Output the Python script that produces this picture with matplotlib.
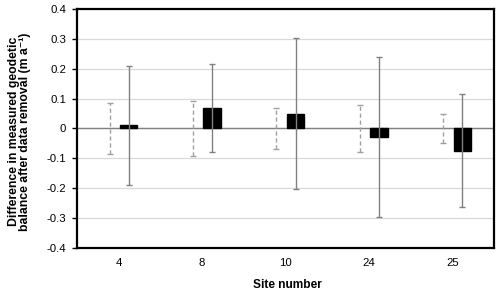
import matplotlib
matplotlib.use("Agg")
import matplotlib.pyplot as plt
import numpy as np

plt.rcParams['font.family'] = ['Liberation Sans', 'DejaVu Sans']

sites = ["4", "8", "10", "24", "25"]
diff = [0.01, 0.068, 0.05, -0.03, -0.075]
diff_err = [0.2, 0.147, 0.252, 0.268, 0.189]
base_err = [0.085, 0.093, 0.069, 0.079, 0.05]

x = np.arange(len(sites))

fig = plt.figure(figsize=(5.0, 2.93), dpi=100)
ax = fig.add_axes([0.154, 0.154, 0.834, 0.815])

ax.set_ylim(-0.4, 0.4)
ax.set_xlim(-0.5, len(sites) - 0.5)
ax.set_yticks(np.arange(-0.4, 0.41, 0.1))
ax.set_yticklabels(["-0.4", "-0.3", "-0.2", "-0.1", "0", "0.1", "0.2", "0.3", "0.4"])
ax.yaxis.grid(True, color='#d9d9d9', lw=0.9)
ax.set_axisbelow(True)
ax.axhline(0, color='#808080', lw=1.0, zorder=1)

# dashed error bars around zero (reference)
eb = ax.errorbar(x - 0.11, np.zeros(len(sites)), yerr=base_err, fmt='none',
                 ecolor='#a0a0a0', elinewidth=1.0, capsize=2, capthick=1.0, zorder=2)
eb[2][0].set_linestyle((0, (3, 2)))

ax.bar(x + 0.12, diff, width=0.21, color='black', edgecolor='black', zorder=3)
ax.errorbar(x + 0.12, diff, yerr=diff_err, fmt='none', ecolor='#808080',
            elinewidth=1.0, capsize=2, capthick=1.0, zorder=4)

ax.set_xticks(x)
ax.set_xticklabels(sites)
ax.tick_params(axis='both', labelsize=8.2, colors='black')
ax.tick_params(axis='x', length=0, pad=7.5)
ax.tick_params(axis='y', length=3.5, width=1, pad=4.5)
for s in ax.spines.values():
    s.set_linewidth(1.6)
    s.set_color('black')

ax.set_xlabel("Site number", fontsize=8.6, fontweight='bold', va='center')
ax.xaxis.set_label_coords(0.505, -0.155)
ax.set_ylabel("Difference in measured geodetic\nbalance after data removal (m a⁻¹)",
              fontsize=8.8, fontweight='bold', va='center', linespacing=0.88)
ax.yaxis.set_label_coords(-0.137, 0.487)

fig.savefig("out.png", dpi=100)
